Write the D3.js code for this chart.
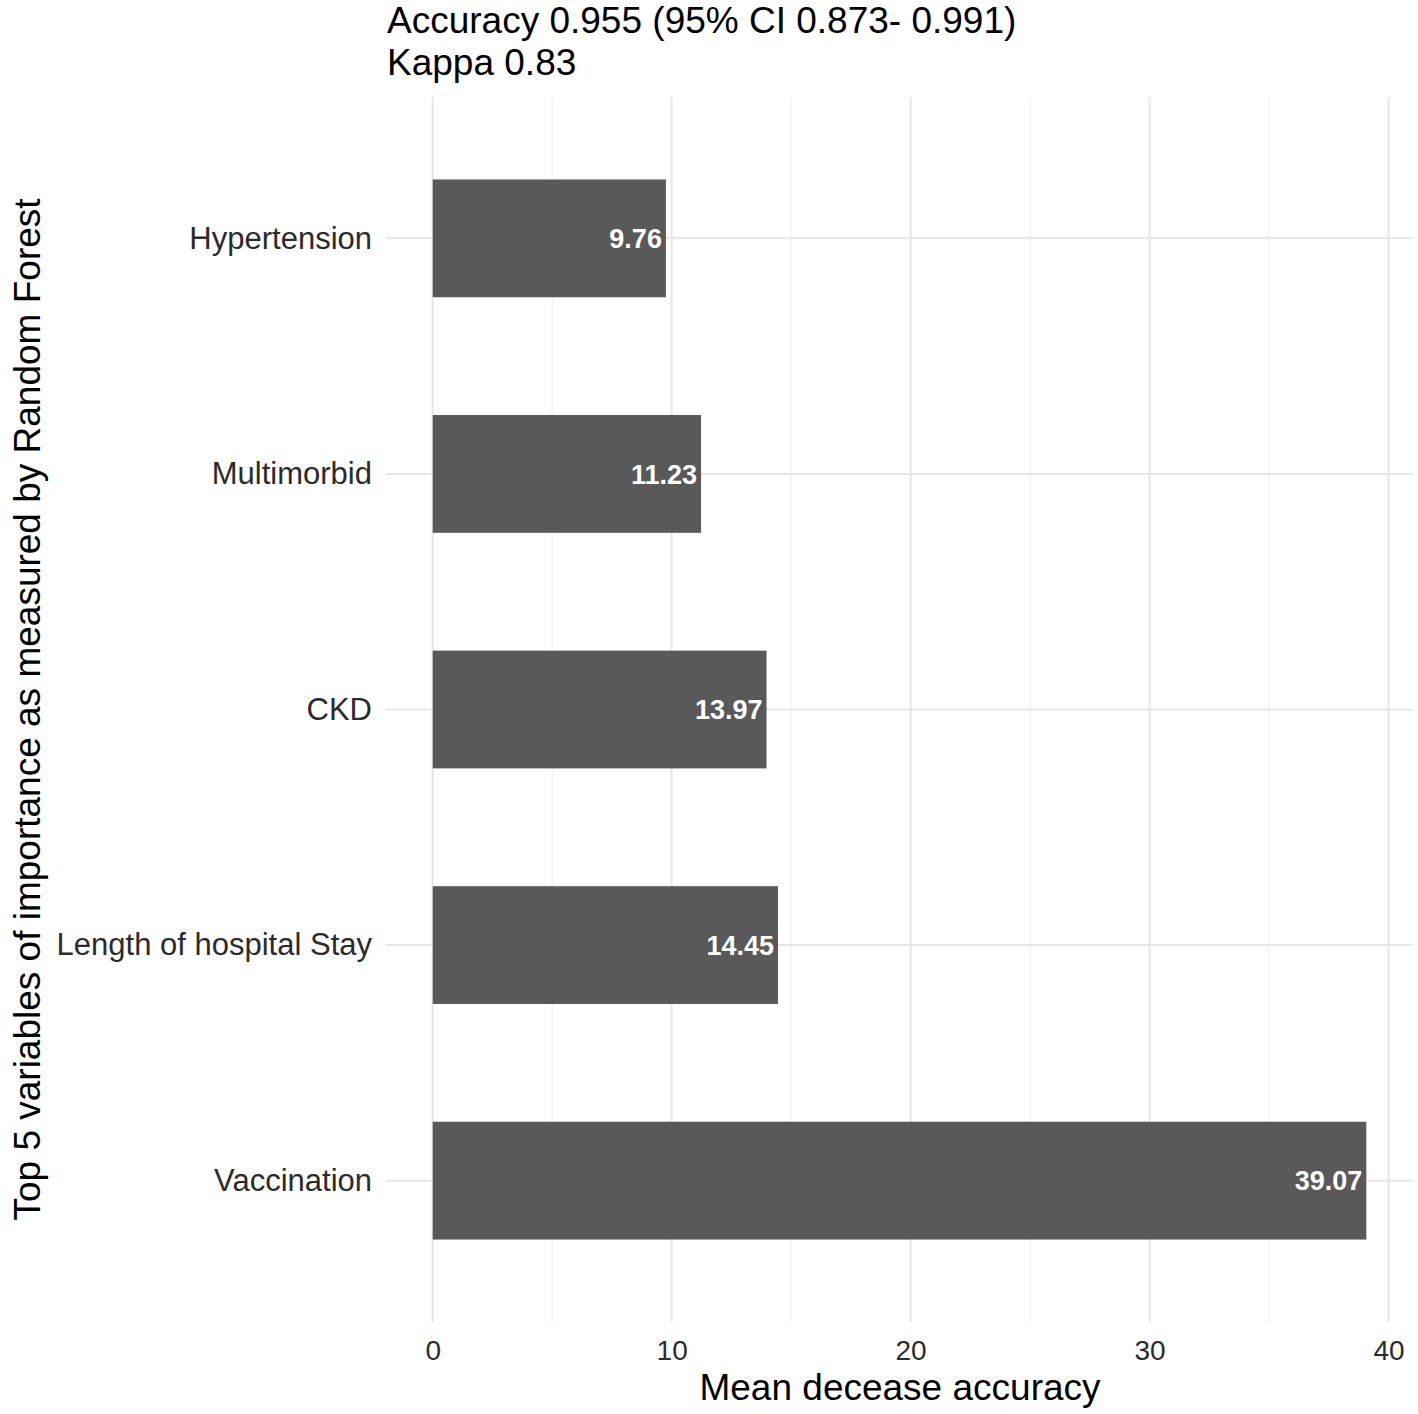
<!DOCTYPE html>
<html lang="en">
<head>
    <meta charset="UTF-8">
    <title>Top 5 variables of importance</title>
    <script src="https://d3js.org/d3.v7.min.js"></script>
    <style>
        body { margin: 0; background: #fff; }
        text { font-family: "Liberation Sans", Arial, Helvetica, sans-serif; }
    </style>
</head>
<body>
    <svg width="1418" height="1414"></svg>
    <script>
        // Data for the plot (top to bottom)
        const variables = ["Hypertension", "Multimorbid", "CKD", "Length of hospital Stay", "Vaccination"];
        const importance = [9.76, 11.23, 13.97, 14.45, 39.07];
        const majorTicks = [0, 10, 20, 30, 40];
        const minorTicks = [5, 15, 25, 35];
        const titleLines = ["Accuracy 0.955 (95% CI 0.873- 0.991)", "Kappa 0.83"];

        const data = variables.map((v, i) => ({ name: v, value: importance[i] }));

        const svg = d3.select("svg");
        const margin = { top: 97, right: 5, bottom: 92, left: 386 };
        const width = +svg.attr("width") - margin.left - margin.right;
        const height = +svg.attr("height") - margin.top - margin.bottom;

        const g = svg.append("g")
            .attr("transform", `translate(${margin.left},${margin.top})`);

        // Scales: ggplot-style 5% expansion on x, 0.6 on discrete y
        const maxVal = d3.max(importance);
        const x = d3.scaleLinear()
            .domain([-0.05 * maxVal, maxVal * 1.05])
            .range([0, width]);

        const y = d3.scalePoint()
            .domain(variables)
            .range([0, height])
            .padding(0.6);
        const step = y.step();
        const barH = step * 0.5;

        // Grid lines
        g.selectAll(".minor")
            .data(minorTicks)
            .join("line")
            .attr("x1", d => x(d)).attr("x2", d => x(d))
            .attr("y1", 0).attr("y2", height)
            .attr("stroke", "#f0f0f0")
            .attr("stroke-width", 1.2);

        g.selectAll(".major")
            .data(majorTicks)
            .join("line")
            .attr("x1", d => x(d)).attr("x2", d => x(d))
            .attr("y1", 0).attr("y2", height)
            .attr("stroke", "#e6e6e6")
            .attr("stroke-width", 2);

        g.selectAll(".hgrid")
            .data(variables)
            .join("line")
            .attr("x1", 0).attr("x2", width)
            .attr("y1", d => y(d)).attr("y2", d => y(d))
            .attr("stroke", "#e6e6e6")
            .attr("stroke-width", 2);

        // Bars
        g.selectAll(".bar")
            .data(data)
            .join("rect")
            .attr("x", x(0))
            .attr("y", d => y(d.name) - barH / 2)
            .attr("width", d => x(d.value) - x(0))
            .attr("height", barH)
            .attr("fill", "#595959");

        // Value labels
        g.selectAll(".val")
            .data(data)
            .join("text")
            .attr("x", d => x(d.value) - 4)
            .attr("y", d => y(d.name))
            .attr("dy", "0.36em")
            .attr("text-anchor", "end")
            .attr("fill", "#fff")
            .attr("font-weight", "bold")
            .attr("font-size", "27px")
            .text(d => d.value.toFixed(2));

        // Y axis labels
        const yAxis = g.append("g")
            .call(d3.axisLeft(y).tickSize(0).tickPadding(14));
        yAxis.select(".domain").remove();
        yAxis.selectAll("text")
            .attr("font-size", "31px")
            .attr("fill", "#2b2b2b")
            .style("font-family", "'Liberation Sans', Arial, sans-serif");

        // X axis labels
        const xAxis = g.append("g")
            .attr("transform", `translate(0,${height})`)
            .call(d3.axisBottom(x).tickValues(majorTicks).tickSize(0).tickPadding(18));
        xAxis.select(".domain").remove();
        xAxis.selectAll("text")
            .attr("font-size", "28px")
            .attr("fill", "#2b2b2b")
            .style("font-family", "'Liberation Sans', Arial, sans-serif");

        // Axis titles
        svg.append("text")
            .attr("x", 900)
            .attr("y", 1400)
            .attr("text-anchor", "middle")
            .attr("font-size", "37px")
            .attr("fill", "#000")
            .text("Mean decease accuracy");

        svg.append("text")
            .attr("transform", `translate(40,${margin.top + height / 2}) rotate(-90)`)
            .attr("text-anchor", "middle")
            .attr("font-size", "37px")
            .attr("fill", "#000")
            .text("Top 5 variables of importance as measured by Random Forest");

        // Title
        svg.append("g")
            .selectAll("text")
            .data(titleLines)
            .join("text")
            .attr("x", 387)
            .attr("y", (d, i) => 33 + i * 42)
            .attr("font-size", "37px")
            .attr("fill", "#000")
            .text(d => d);
    </script>
</body>
</html>
